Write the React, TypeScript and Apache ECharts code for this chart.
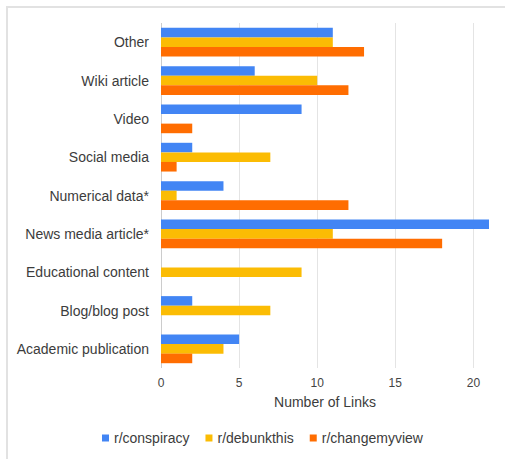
import React, { useEffect, useRef } from "react";
import * as echarts from "echarts";

const categories = [
  "Academic publication",
  "Blog/blog post",
  "Educational content",
  "News media article*",
  "Numerical data*",
  "Social media",
  "Video",
  "Wiki article",
  "Other",
];
const conspiracy = [5, 2, 0, 21, 4, 2, 9, 6, 11];
const debunkthis = [4, 7, 9, 11, 1, 7, 0, 10, 11];
const changemyview = [2, 0, 0, 18, 12, 1, 2, 12, 13];
const xTicks = [0, 5, 10, 15, 20];

const FONT = "'Liberation Sans', Arial, sans-serif";

export default function App() {
  const ref = useRef<HTMLDivElement>(null);
  useEffect(() => {
    if (!ref.current) return;
    const chart = echarts.init(ref.current, null, { renderer: "svg" });
    const seriesDefs = [
      { name: "r/conspiracy", data: conspiracy, color: "#4285F4" },
      { name: "r/debunkthis", data: debunkthis, color: "#FBBC04" },
      { name: "r/changemyview", data: changemyview, color: "#FF6D01" },
    ];
    chart.setOption({
      animation: false,
      textStyle: { fontFamily: FONT },
      graphic: [
        {
          type: "rect",
          shape: { x: 7, y: 7, width: 520, height: 470 },
          style: { fill: "none", stroke: "#e2e2e2", lineWidth: 2 },
          silent: true,
        },
      ],
      legend: {
        left: 102,
        top: 431,
        padding: 0,
        itemWidth: 7,
        itemHeight: 7,
        itemGap: 16,
        icon: "rect",
        data: seriesDefs.map((s) => s.name),
        textStyle: { fontSize: 14, color: "#3c3c3c", fontFamily: FONT },
      },
      grid: { left: 161, right: 16, top: 23, bottom: 91 },
      xAxis: {
        type: "value",
        min: 0,
        max: 21,
        interval: 5,
        name: "Number of Links",
        nameLocation: "middle",
        nameGap: 27,
        nameTextStyle: { fontSize: 14, color: "#3c3c3c", fontFamily: FONT },
        axisLine: { show: false },
        axisTick: { show: false },
        axisLabel: {
          fontSize: 12,
          color: "#444",
          margin: 9,
          fontFamily: FONT,
          showMaxLabel: false,
          formatter: (v: number) => (xTicks.includes(v) ? String(v) : ""),
        },
        splitLine: {
          lineStyle: {
            color: ["#cccccc", "#e4e4e4", "#e4e4e4", "#e4e4e4", "#e4e4e4", "rgba(0,0,0,0)"],
            width: 1,
          },
        },
      },
      yAxis: {
        type: "category",
        data: categories,
        axisLine: { show: false },
        axisTick: { show: false },
        axisLabel: { fontSize: 14, color: "#3c3c3c", margin: 12, fontFamily: FONT },
        splitLine: { show: false },
      },
      series: seriesDefs.map((s) => ({
        name: s.name,
        type: "bar",
        data: s.data,
        barGap: "0%",
        barCategoryGap: "25%",
        itemStyle: { color: s.color },
      })),
    });
    return () => chart.dispose();
  }, []);
  return (
    <div
      ref={ref}
      style={{ position: "fixed", left: 0, top: 0, width: 505, height: 459, background: "#fff" }}
    />
  );
}
